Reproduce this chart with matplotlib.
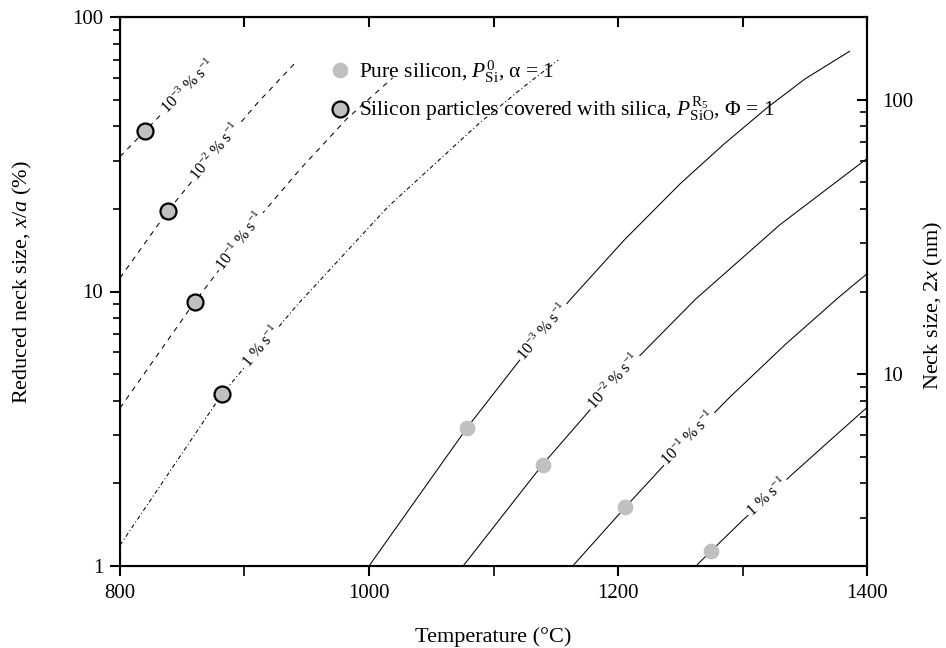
import numpy as np
import matplotlib
matplotlib.use("Agg")
import matplotlib.pyplot as plt
from matplotlib.ticker import FixedLocator, LogLocator, NullFormatter, FuncFormatter

plt.rcParams['font.family'] = ['Liberation Serif', 'DejaVu Serif']
plt.rcParams['mathtext.fontset'] = 'custom'
plt.rcParams['mathtext.rm'] = 'Liberation Serif'
plt.rcParams['mathtext.it'] = 'Liberation Serif:italic'
plt.rcParams['font.size'] = 12

# silicon covered with silica -> dashed curves (left family)
silica_labels = [r"10$^{-3}$ % s$^{-1}$", r"10$^{-2}$ % s$^{-1}$", r"10$^{-1}$ % s$^{-1}$", r"1 % s$^{-1}$"]
silica_T = [
    [800, 820, 850, 875],
    [800, 838.6, 880, 910, 940],
    [800, 860, 912, 945, 982, 1019],
    [800, 882, 942, 1015, 1089, 1125, 1152],
]
silica_y = [
    [31, 38.4, 53, 69],
    [11.2, 19.7, 33.5, 48.4, 67.5],
    [3.76, 9.16, 18.7, 28, 42.5, 60],
    [1.19, 4.23, 8.9, 20.3, 41.2, 56, 69.7],
]
silica_label_T = [855, 877, 897, 914]
silica_pts_T = [820, 838.6, 860, 882]
silica_pts_y = [38.4, 19.7, 9.16, 4.23]

# pure silicon -> solid curves (right family)
pure_labels = [r"10$^{-3}$ % s$^{-1}$", r"10$^{-2}$ % s$^{-1}$", r"10$^{-1}$ % s$^{-1}$", r"1 % s$^{-1}$"]
pure_T = [
    [1000, 1079, 1123, 1162, 1205, 1250, 1285, 1320, 1350, 1386],
    [1075.6, 1139.7, 1200, 1262, 1330, 1400],
    [1163.6, 1206, 1250, 1290, 1335, 1377, 1400],
    [1262.6, 1275, 1300, 1340, 1370, 1400],
]
pure_y = [
    [1, 3.2, 5.77, 9.38, 15.4, 24.7, 34.4, 46.8, 59.4, 75],
    [1, 2.35, 4.85, 9.35, 17.5, 30.5],
    [1, 1.64, 2.7, 4.13, 6.45, 9.5, 11.6],
    [1, 1.137, 1.465, 2.16, 2.86, 3.78],
]
pure_label_T = [1140, 1197, 1257, 1320]
pure_pts_T = [1078.7, 1139.7, 1206, 1275]
pure_pts_y = [3.18, 2.33, 1.64, 1.137]

fig = plt.figure(figsize=(9.46, 6.48), dpi=100)
ax = fig.add_axes([120/946, 1-566/648, (867-120)/946, (566-17)/648])
ax.set_xlim(800, 1400)
ax.set_yscale('log')
ax.set_ylim(1, 100)

dashes = [(0, (5, 5)), (0, (5, 5)), (0, (5, 5)), (0, (4, 2.5, 1, 2.5))]
for T, y, ls in zip(silica_T, silica_y, dashes):
    ax.plot(T, y, color='black', lw=0.75, linestyle=ls)
for T, y in zip(pure_T, pure_y):
    ax.plot(T, y, color='black', lw=0.75)

# inline labels sitting on the curves, rotated with the local slope
def put_label(T, y, x0, text):
    ly = np.log10(y)
    y0 = 10**np.interp(x0, T, ly)
    xa, xb = x0 - 6, x0 + 6
    pa = ax.transData.transform((xa, 10**np.interp(xa, T, ly)))
    pb = ax.transData.transform((xb, 10**np.interp(xb, T, ly)))
    ang = np.degrees(np.arctan2(pb[1]-pa[1], pb[0]-pa[0]))
    ax.text(x0, y0, text, rotation=ang, rotation_mode='anchor', ha='center', va='center',
            fontsize=11.5, zorder=3,
            bbox=dict(boxstyle='square,pad=0.1', fc='white', ec='none'))

for T, y, x0, s in zip(silica_T, silica_y, silica_label_T, silica_labels):
    put_label(T, y, x0, s)
for T, y, x0, s in zip(pure_T, pure_y, pure_label_T, pure_labels):
    put_label(T, y, x0, s)

h1, = ax.plot(pure_pts_T, pure_pts_y, 'o', ms=11.3, color='#c0c0c0', mec='none', zorder=4,
              label=r"Pure silicon, $P^{0}_{\mathrm{Si}}$, α = 1")
h2, = ax.plot(silica_pts_T, silica_pts_y, 'o', ms=11.5, mfc='#c0c0c0', mec='black', mew=1.6, zorder=4,
              label=r"Silicon particles covered with silica, $P^{\mathrm{R}_5}_{\mathrm{SiO}}$, Φ = 1")
ax.legend(handles=[h1, h2], frameon=False, loc='upper left', bbox_to_anchor=(0.28, 0.925),
          handletextpad=0.4, borderaxespad=0, borderpad=0, labelspacing=0.45, fontsize=15.5,
          handlelength=1.0)

# ticks: left/bottom outward, top/right inward
for s in ax.spines.values():
    s.set_linewidth(1.5)
ax.set_xticks([800, 1000, 1200, 1400])
ax.xaxis.set_minor_locator(FixedLocator([900, 1100, 1300]))
ax.yaxis.set_major_formatter(FuncFormatter(lambda v, p: '%g' % v))
ax.yaxis.set_minor_formatter(NullFormatter())
ax.tick_params(which='major', direction='out', length=7, width=1.5, labelsize=15, right=False, top=False)
ax.tick_params(which='minor', direction='out', length=5, width=1.2, right=False, top=False)
ax.tick_params(axis='x', which='both', length=7, pad=6)
ax.tick_params(axis='y', which='major', pad=5)

top = ax.secondary_xaxis('top')
top.set_xticks(np.arange(800, 1401, 100))
top.tick_params(direction='in', length=7, width=1.5, labeltop=False)
top.spines['top'].set_linewidth(1.5)

ax2 = ax.twinx()
ax2.set_yscale('log')
ax2.set_ylim(2, 200)
ax2.yaxis.set_major_locator(FixedLocator([10, 100]))
ax2.yaxis.set_minor_locator(LogLocator(base=10, subs=np.arange(2, 10)))
ax2.yaxis.set_major_formatter(FuncFormatter(lambda v, p: '%g' % v))
ax2.yaxis.set_minor_formatter(NullFormatter())
ax2.tick_params(which='major', direction='in', length=7, width=1.5, labelsize=15, pad=11)
ax2.tick_params(which='minor', direction='in', length=5, width=1.2)
ax2.spines['right'].set_linewidth(1.5)

ax.set_xlabel("Temperature (°C)", fontsize=16)
ax.set_ylabel(r"Reduced neck size, $x/a$ (%)", fontsize=16)
ax2.set_ylabel(r"Neck size, 2$x$ (nm)", fontsize=16)
ax.xaxis.set_label_coords(0.5, -0.111)
ax.yaxis.set_label_coords(-0.115, 0.518)
ax2.yaxis.set_label_coords(1.073, 0.475)

fig.savefig("out.png", dpi=100)
